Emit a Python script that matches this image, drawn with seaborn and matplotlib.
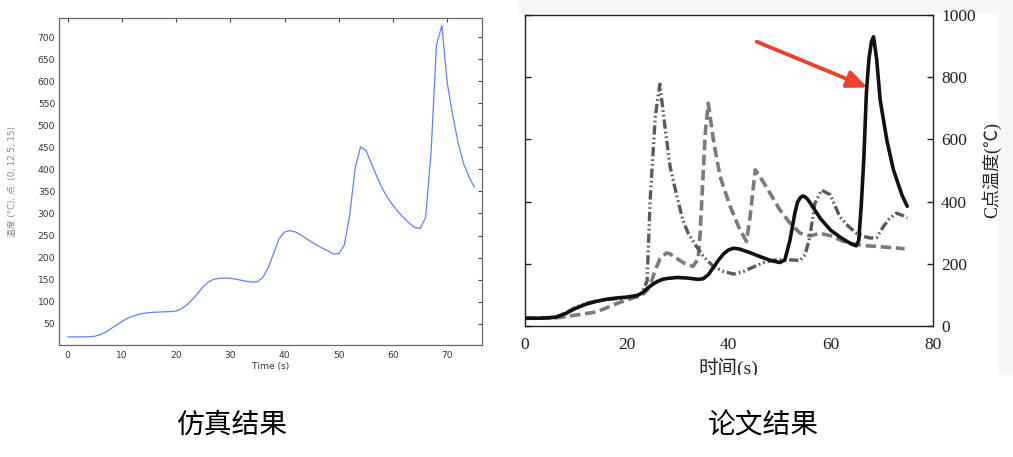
import matplotlib
matplotlib.use("Agg")
import matplotlib.pyplot as plt
import seaborn as sns
from matplotlib.patches import Rectangle

# ---------------- data: simulation (left) ----------------
sim_time = list(range(0, 76))
sim_temp = [20, 20, 20, 20, 20.5, 21.5, 25, 31, 39, 47,
            55, 62, 67, 71, 73.5, 75, 76, 76.5, 77, 77.5,
            79, 84, 93, 105, 119, 134, 145, 151, 153, 153.5,
            153, 151, 148.5, 146, 144.5, 145, 155, 178, 210, 243,
            258, 261, 258, 251, 243, 235, 228, 221, 215, 208,
            209, 228, 296, 402, 451, 443, 414, 384, 357, 336,
            318, 303, 290, 278, 268, 266, 291, 436, 682, 726,
            595, 523, 460, 413, 383, 359]
sim_xticks = [0, 10, 20, 30, 40, 50, 60, 70]
sim_yticks = [50, 100, 150, 200, 250, 300, 350, 400, 450, 500, 550, 600, 650, 700]

# ---------------- data: paper (right) ----------------
paper_c_time = [0, 3, 6, 8, 10, 12, 14, 16, 18, 20, 22, 23, 24, 25, 26, 27, 28, 30, 32, 34,
                35, 36, 37, 38, 39, 40, 41, 42, 44, 46, 48, 50, 51, 52, 53, 53.5, 54, 54.5, 55, 55.5, 56, 58,
                60, 62, 64, 65, 65.5, 66, 66.5, 67, 67.5, 68, 68.4, 69, 69.7, 71, 72.3, 74, 75]
paper_c_temp = [25, 25, 28, 40, 57, 70, 79, 86, 90, 93, 98, 106, 120, 133, 143, 150, 153, 156, 154, 150,
                152, 165, 188, 212, 232, 245, 250, 248, 237, 224, 212, 204, 212, 275, 365, 398, 412, 418, 415, 407, 395, 345,
                308, 284, 264, 258, 275, 390, 540, 750, 860, 915, 930, 860, 727, 598, 502, 420, 385]

paper_b_time = [0, 3, 6, 8, 10, 12, 14, 16, 18, 20, 22, 23, 24, 24.6, 25.6, 26.5, 27.5, 28.5, 29.8, 31,
                32, 33.7, 35, 37, 39, 41, 43, 45, 47, 49, 51, 53, 54, 55, 55.9, 56.9, 58.2, 59.9, 61.8, 63.5,
                65.1, 66.5, 67.7, 69, 70.3, 71.5, 72.9, 74, 75]
paper_b_temp = [25, 25, 28, 42, 60, 73, 80, 85, 88, 91, 95, 105, 145, 406, 673, 778, 641, 513, 420, 341,
                300, 255, 225, 191, 175, 167, 176, 191, 205, 212, 213, 212, 210, 230, 287, 394, 437, 422, 351, 320,
                298, 288, 283, 284, 319, 345, 363, 356, 347]

paper_a_time = [0, 3, 6, 8, 10, 12, 14, 16, 18, 20, 22, 23, 24, 25, 25.6, 26.5, 27.8, 28.5, 30, 31.5,
                33, 34, 34.4, 35.4, 36, 37, 38.3, 40.3, 42.2, 43.5, 44.2, 45.2, 46.1, 48.1, 50, 52, 54, 56, 57.9, 60,
                62.5, 65, 67, 69, 71, 73.6, 74.5]
paper_a_temp = [25, 25, 26, 30, 35, 40, 45, 58, 72, 84, 94, 100, 115, 150, 180, 215, 235, 232, 215, 200,
                192, 215, 299, 620, 716, 598, 481, 384, 309, 272, 352, 502, 481, 427, 374, 331, 298, 290, 298, 290,
                272, 262, 258, 256, 253, 250, 248]

paper_xticks = [0, 20, 40, 60, 80]
paper_yticks = [0, 200, 400, 600, 800, 1000]

titles = ["仿真结果", "论文结果"]

# ---------------- figure ----------------
sns.set_style("white")
plt.rcParams['font.family'] = ['DejaVu Sans', 'Noto Sans CJK SC']

W, H = 1013, 457
fig = plt.figure(figsize=(W / 100, H / 100), dpi=100)
fig.patch.set_facecolor('white')

def fx(px):
    return px / W

def fy(py):
    return 1 - py / H

# screenshot background of right panel
fig.patches.append(Rectangle((fx(518), fy(375)), fx(1013 - 518), 375 / H, transform=fig.transFigure,
                             facecolor='#f6f6f6', edgecolor='none', zorder=-10))
fig.patches.append(Rectangle((fx(518), fy(375)), fx(998 - 518), (375 - 13) / H, transform=fig.transFigure,
                             facecolor='white', edgecolor='none', zorder=-9))

# ---- left: simulation ----
ax1 = fig.add_axes([fx(58.7), fy(345), fx(482 - 58.7), (345 - 17.7) / H])
sns.lineplot(x=sim_time, y=sim_temp, ax=ax1, color='#5f80ff', lw=0.9)
ax1.set_xlim(-1.65, 76.4)
ax1.set_ylim(1.7, 744)
ax1.set_xticks(sim_xticks)
ax1.set_yticks(sim_yticks)
ax1.tick_params(direction='in', top=True, right=True, length=3, width=0.8, color='#444',
                labelsize=6.6, labelcolor='#333')
ax1.tick_params(axis='x', pad=4)
ax1.tick_params(axis='y', pad=2.5)
for s in ax1.spines.values():
    s.set_color('#666')
    s.set_linewidth(0.9)
ax1.set_xlabel('Time (s)', fontsize=6.6, color='#333', labelpad=2)
ax1.set_ylabel('温度 (°C), 点: (0, 12.5, 15)', fontsize=6.3, color='#888', labelpad=15,
               family=['DejaVu Sans', 'Noto Sans CJK SC'])

# ---- right: paper ----
ax2 = fig.add_axes([fx(524.7), fy(326), fx(932.7 - 524.7), (326 - 15) / H])
ax2.set_facecolor('white')
sns.lineplot(x=paper_a_time, y=paper_a_temp, ax=ax2, color='#7a7a7a', lw=2.6,
             linestyle=(0, (2.9, 1.3)))
sns.lineplot(x=paper_b_time, y=paper_b_temp, ax=ax2, color='#5a5a5a', lw=2.4,
             linestyle=(0, (2.8, 0.9, 0.5, 0.9, 0.5, 0.9)))
sns.lineplot(x=paper_c_time, y=paper_c_temp, ax=ax2, color='#111111', lw=2.6,
             solid_joinstyle='round')
ax2.annotate('', xy=(67.2, 767), xytext=(45.5, 914),
             arrowprops=dict(arrowstyle='-|>,head_length=0.8,head_width=0.35', color='#e8432d',
                             lw=2.8, mutation_scale=15, shrinkA=0, shrinkB=0))
ax2.set_xlim(0, 80)
ax2.set_ylim(0, 1000)
ax2.set_xticks(paper_xticks)
ax2.set_yticks(paper_yticks)
ax2.yaxis.tick_right()
ax2.tick_params(direction='in', length=4.5, width=1, color='#222', labelsize=12.5, labelcolor='#222')
ax2.tick_params(axis='y', left=True, right=True, labelleft=False, labelright=True, pad=6)
ax2.tick_params(axis='x', pad=8)
for lab in ax2.get_xticklabels() + ax2.get_yticklabels():
    lab.set_family('Liberation Serif')
for s in ax2.spines.values():
    s.set_color('#222')
    s.set_linewidth(1.0)
ax2.set_xlabel('时间(s)', fontsize=14, color='#222', labelpad=3,
               family=['Liberation Serif', 'Noto Sans CJK SC'])
ax2.yaxis.set_label_position('right')
ax2.set_ylabel('C点温度(℃)', fontsize=13, color='#222', labelpad=4, rotation=90,
               family=['Liberation Serif', 'Noto Sans CJK SC'])

# crop of the screenshot below the right panel
fig.patches.append(Rectangle((fx(505), fy(402)), fx(1013 - 505), (402 - 375) / H, transform=fig.transFigure,
                             facecolor='white', edgecolor='none', zorder=5))

fig.text(fx(232), fy(425), titles[0], fontsize=20, ha='center', va='center', color='black',
         family=['Noto Sans CJK SC'], zorder=6)
fig.text(fx(763), fy(425), titles[1], fontsize=20, ha='center', va='center', color='black',
         family=['Noto Sans CJK SC'], zorder=6)

fig.savefig('out.png', dpi=100, facecolor='white')
